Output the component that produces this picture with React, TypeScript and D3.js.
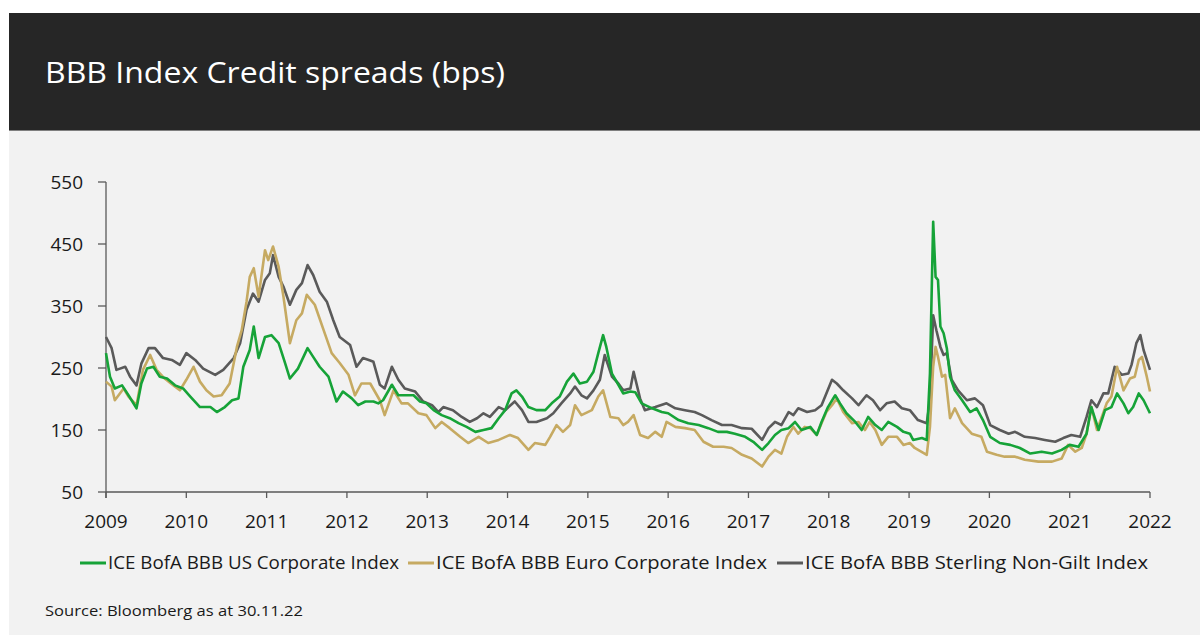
import React from "react";
import * as d3 from "d3";

// [fractional year, spread in bps]
const usCorporate: [number, number][] = [
  [2009.0, 274], [2009.05, 236], [2009.11, 217], [2009.2, 222], [2009.28, 206], [2009.38, 185], [2009.44, 225],
  [2009.51, 249], [2009.59, 252], [2009.67, 236], [2009.76, 233], [2009.86, 222], [2009.96, 217], [2010.05, 204],
  [2010.17, 187], [2010.3, 187], [2010.38, 179], [2010.48, 187], [2010.57, 198], [2010.65, 201], [2010.71, 252],
  [2010.79, 279], [2010.84, 317], [2010.9, 266], [2010.98, 300], [2011.06, 303], [2011.15, 290], [2011.23, 258],
  [2011.29, 233], [2011.39, 249], [2011.51, 282], [2011.58, 268], [2011.66, 252], [2011.77, 236], [2011.87, 196],
  [2011.95, 212], [2012.06, 201], [2012.14, 190], [2012.23, 196], [2012.33, 196], [2012.39, 193], [2012.45, 198],
  [2012.56, 223], [2012.64, 206], [2012.74, 206], [2012.83, 206], [2012.91, 196], [2012.99, 193], [2013.08, 182],
  [2013.18, 174], [2013.28, 169], [2013.39, 161], [2013.49, 155], [2013.6, 147], [2013.7, 150], [2013.8, 153],
  [2013.89, 169], [2013.97, 182], [2014.05, 209], [2014.11, 214], [2014.18, 204], [2014.26, 187], [2014.36, 182],
  [2014.47, 182], [2014.55, 193], [2014.65, 204], [2014.74, 228], [2014.82, 241], [2014.9, 225], [2014.99, 228],
  [2015.07, 244], [2015.13, 274], [2015.19, 303], [2015.23, 284], [2015.3, 241], [2015.38, 223], [2015.44, 209],
  [2015.53, 212], [2015.59, 211], [2015.67, 193], [2015.8, 185], [2015.92, 179], [2016.0, 177], [2016.13, 166],
  [2016.25, 161], [2016.38, 158], [2016.5, 153], [2016.62, 147], [2016.73, 147], [2016.83, 144], [2016.96, 139],
  [2017.06, 131], [2017.17, 118], [2017.25, 129], [2017.33, 142], [2017.41, 150], [2017.5, 153], [2017.58, 163],
  [2017.66, 150], [2017.77, 155], [2017.85, 142], [2017.91, 163], [2017.99, 187], [2018.08, 206], [2018.14, 193],
  [2018.22, 177], [2018.33, 163], [2018.41, 150], [2018.49, 171], [2018.58, 158], [2018.66, 150], [2018.74, 163],
  [2018.85, 155], [2018.93, 147], [2019.01, 144], [2019.05, 134], [2019.16, 137], [2019.22, 134], [2019.26, 241],
  [2019.3, 486], [2019.33, 397], [2019.36, 392], [2019.39, 317], [2019.43, 306], [2019.47, 282], [2019.51, 236],
  [2019.57, 214], [2019.66, 198], [2019.76, 179], [2019.84, 185], [2019.92, 166], [2020.01, 139], [2020.13, 129],
  [2020.26, 126], [2020.38, 121], [2020.51, 112], [2020.65, 115], [2020.78, 112], [2020.9, 118], [2021.0, 126],
  [2021.11, 123], [2021.21, 144], [2021.27, 187], [2021.36, 150], [2021.44, 182], [2021.52, 187], [2021.59, 209],
  [2021.67, 193], [2021.73, 177], [2021.79, 187], [2021.86, 209], [2021.92, 198], [2022.0, 177],
];

const euroCorporate: [number, number][] = [
  [2009.0, 228], [2009.07, 220], [2009.11, 198], [2009.22, 217], [2009.28, 204], [2009.38, 190], [2009.46, 247],
  [2009.55, 271], [2009.63, 247], [2009.73, 233], [2009.84, 222], [2009.92, 214], [2010.0, 231], [2010.09, 252],
  [2010.17, 228], [2010.25, 214], [2010.34, 204], [2010.44, 206], [2010.54, 225], [2010.63, 284], [2010.69, 311],
  [2010.75, 357], [2010.79, 397], [2010.84, 411], [2010.9, 365], [2010.98, 440], [2011.02, 424], [2011.08, 446],
  [2011.15, 413], [2011.21, 365], [2011.29, 290], [2011.37, 327], [2011.44, 338], [2011.5, 368], [2011.6, 352],
  [2011.71, 311], [2011.81, 274], [2011.91, 258], [2012.02, 239], [2012.1, 206], [2012.18, 225], [2012.29, 225],
  [2012.41, 198], [2012.47, 174], [2012.58, 214], [2012.68, 193], [2012.76, 193], [2012.89, 177], [2012.99, 174],
  [2013.1, 153], [2013.18, 163], [2013.28, 153], [2013.41, 139], [2013.51, 129], [2013.64, 139], [2013.76, 129],
  [2013.89, 134], [2014.03, 142], [2014.13, 137], [2014.26, 118], [2014.34, 129], [2014.47, 126], [2014.53, 139],
  [2014.61, 158], [2014.69, 147], [2014.78, 158], [2014.84, 190], [2014.92, 174], [2015.05, 182], [2015.13, 204],
  [2015.19, 214], [2015.28, 171], [2015.38, 169], [2015.44, 158], [2015.5, 163], [2015.57, 174], [2015.65, 142],
  [2015.75, 137], [2015.84, 147], [2015.92, 139], [2015.98, 163], [2016.09, 155], [2016.21, 153], [2016.33, 150],
  [2016.44, 131], [2016.56, 123], [2016.69, 123], [2016.79, 121], [2016.92, 110], [2017.04, 104], [2017.17, 91],
  [2017.25, 107], [2017.33, 118], [2017.41, 112], [2017.48, 139], [2017.56, 155], [2017.62, 144], [2017.7, 155],
  [2017.77, 153], [2017.85, 142], [2017.91, 161], [2017.97, 179], [2018.04, 190], [2018.1, 201], [2018.18, 179],
  [2018.29, 161], [2018.37, 163], [2018.45, 150], [2018.51, 163], [2018.58, 150], [2018.66, 126], [2018.74, 139],
  [2018.85, 139], [2018.93, 126], [2019.01, 129], [2019.07, 121], [2019.22, 110], [2019.26, 155], [2019.3, 252],
  [2019.33, 284], [2019.36, 268], [2019.41, 236], [2019.45, 239], [2019.51, 169], [2019.57, 185], [2019.66, 161],
  [2019.78, 144], [2019.9, 139], [2019.97, 115], [2020.09, 110], [2020.19, 107], [2020.32, 107], [2020.44, 102],
  [2020.61, 99], [2020.78, 99], [2020.9, 104], [2020.98, 126], [2021.07, 115], [2021.15, 121], [2021.21, 144],
  [2021.27, 187], [2021.34, 150], [2021.4, 171], [2021.46, 193], [2021.52, 204], [2021.59, 252], [2021.67, 214],
  [2021.75, 233], [2021.81, 236], [2021.86, 263], [2021.9, 268], [2021.96, 236], [2022.0, 212],
];

const sterlingNonGilt: [number, number][] = [
  [2009.0, 300], [2009.07, 282], [2009.13, 247], [2009.24, 252], [2009.3, 236], [2009.38, 222], [2009.44, 257],
  [2009.53, 282], [2009.61, 282], [2009.71, 266], [2009.82, 263], [2009.92, 255], [2010.0, 274], [2010.11, 263],
  [2010.21, 249], [2010.36, 239], [2010.46, 247], [2010.59, 266], [2010.67, 290], [2010.75, 344], [2010.83, 370],
  [2010.9, 357], [2010.98, 392], [2011.04, 403], [2011.08, 432], [2011.15, 397], [2011.21, 381], [2011.29, 352],
  [2011.37, 376], [2011.44, 387], [2011.51, 416], [2011.58, 400], [2011.66, 373], [2011.75, 357], [2011.83, 327],
  [2011.91, 300], [2012.04, 287], [2012.12, 252], [2012.2, 266], [2012.29, 262], [2012.33, 260], [2012.41, 223],
  [2012.47, 217], [2012.56, 252], [2012.64, 231], [2012.72, 217], [2012.85, 212], [2012.95, 196], [2013.06, 190],
  [2013.14, 179], [2013.2, 187], [2013.32, 182], [2013.43, 171], [2013.53, 163], [2013.62, 169], [2013.7, 177],
  [2013.78, 171], [2013.89, 187], [2013.97, 182], [2014.09, 196], [2014.18, 182], [2014.26, 163], [2014.36, 163],
  [2014.49, 169], [2014.57, 177], [2014.67, 193], [2014.78, 209], [2014.84, 220], [2014.92, 206], [2014.99, 201],
  [2015.07, 214], [2015.15, 231], [2015.21, 271], [2015.3, 236], [2015.38, 225], [2015.44, 214], [2015.53, 217],
  [2015.57, 244], [2015.65, 201], [2015.71, 182], [2015.84, 187], [2015.98, 193], [2016.09, 185], [2016.21, 182],
  [2016.33, 179], [2016.42, 174], [2016.54, 166], [2016.67, 158], [2016.79, 158], [2016.92, 153], [2017.04, 152],
  [2017.17, 134], [2017.25, 153], [2017.33, 163], [2017.41, 158], [2017.5, 179], [2017.56, 174], [2017.62, 185],
  [2017.73, 179], [2017.83, 182], [2017.91, 190], [2017.97, 209], [2018.04, 231], [2018.1, 225], [2018.18, 214],
  [2018.29, 201], [2018.37, 190], [2018.47, 206], [2018.55, 198], [2018.64, 182], [2018.72, 193], [2018.82, 196],
  [2018.91, 185], [2019.01, 182], [2019.11, 166], [2019.22, 161], [2019.26, 198], [2019.3, 335], [2019.34, 311],
  [2019.39, 284], [2019.43, 271], [2019.47, 274], [2019.53, 231], [2019.61, 214], [2019.72, 198], [2019.82, 201],
  [2019.92, 190], [2020.01, 158], [2020.13, 150], [2020.24, 144], [2020.32, 147], [2020.44, 139], [2020.57, 137],
  [2020.69, 134], [2020.82, 131], [2020.92, 137], [2021.02, 142], [2021.13, 139], [2021.21, 171], [2021.27, 198],
  [2021.34, 187], [2021.42, 209], [2021.48, 209], [2021.56, 252], [2021.65, 239], [2021.73, 241], [2021.77, 255],
  [2021.83, 290], [2021.88, 303], [2021.92, 279], [2022.0, 247],
];

const yTicks = [50, 150, 250, 350, 450, 550];
const xTicks = [2009, 2010, 2011, 2012, 2013, 2014, 2015, 2016, 2017, 2018, 2019, 2020, 2021, 2022];

const seriesNames = [
  "ICE BofA BBB US Corporate Index",
  "ICE BofA BBB Euro Corporate Index",
  "ICE BofA BBB Sterling Non-Gilt Index",
];
const seriesColors = ["#16a338", "#c6aa62", "#5a5a5a"];

const title = "BBB Index Credit spreads (bps)";
const source = "Source: Bloomberg as at 30.11.22";

export default function App() {
  const W = 1200;
  const H = 635;
  const x = d3.scaleLinear().domain([2009, 2022]).range([106, 1150]);
  const y = d3.scaleLinear().domain([50, 550]).range([492, 182]);
  const line = d3
    .line<[number, number]>()
    .x((d) => x(d[0]))
    .y((d) => y(d[1]))
    .curve(d3.curveLinear);

  const allSeries = [usCorporate, euroCorporate, sterlingNonGilt];
  // draw order: sterling first (back), then euro, then US
  const drawOrder = [2, 1, 0];

  const axisColor = "#595959";
  const font = "'Open Sans', 'Noto Sans', sans-serif";

  const legendX = [80, 408, 777];
  const legendTextLen = [291, 331, 343];

  return (
    <svg
      width={W}
      height={H}
      style={{ position: "absolute", left: 0, top: 0, display: "block" }}
      xmlns="http://www.w3.org/2000/svg"
    >
      <rect x={0} y={0} width={W} height={H} fill="#ffffff" />
      <rect x={9} y={13} width={W - 9} height={117} fill="#262626" />
      <rect x={9} y={130} width={W - 9} height={1.2} fill="#7f7f7f" />
      <rect x={9} y={131} width={W - 9} height={H - 131} fill="#f2f2f2" />

      <text x={45} y={83} fill="#ffffff" fontFamily={font} fontSize={28.5} textLength={460} lengthAdjust="spacingAndGlyphs">
        {title}
      </text>

      {/* y axis */}
      <line x1={106} x2={106} y1={y(550)} y2={498} stroke={axisColor} strokeWidth={1.3} />
      {yTicks.map((t) => (
        <g key={"y" + t}>
          <line x1={98} x2={106} y1={y(t)} y2={y(t)} stroke={axisColor} strokeWidth={1.3} />
          <text
            x={83}
            y={y(t)}
            dy="0.35em"
            textAnchor="end"
            fontFamily={font}
            fontSize={19}
            fill="#1a1a1a"
          >
            {t}
          </text>
        </g>
      ))}

      {/* x axis */}
      <line x1={106} x2={1150} y1={y(50)} y2={y(50)} stroke={axisColor} strokeWidth={1.3} />
      {xTicks.map((t) => (
        <g key={"x" + t}>
          <line x1={x(t)} x2={x(t)} y1={y(50)} y2={y(50) + 6} stroke={axisColor} strokeWidth={1.3} />
          <text
            x={x(t)}
            y={528}
            textAnchor="middle"
            fontFamily={font}
            fontSize={19}
            fill="#1a1a1a"
          >
            {t}
          </text>
        </g>
      ))}

      {/* series */}
      {drawOrder.map((i) => (
        <path
          key={"s" + i}
          d={line(allSeries[i]) || ""}
          fill="none"
          stroke={seriesColors[i]}
          strokeWidth={2.6}
          strokeLinejoin="round"
        />
      ))}

      {/* legend */}
      {seriesNames.map((name, i) => (
        <g key={"l" + i}>
          <line
            x1={legendX[i]}
            x2={legendX[i] + 26}
            y1={563}
            y2={563}
            stroke={seriesColors[i]}
            strokeWidth={3}
          />
          <text
            x={legendX[i] + 28}
            y={569}
            fontFamily={font}
            fontSize={17.5}
            fill="#1a1a1a"
            textLength={legendTextLen[i]}
            lengthAdjust="spacingAndGlyphs"
          >
            {name}
          </text>
        </g>
      ))}

      <text x={45} y={616} fontFamily={font} fontSize={14.5} fill="#1a1a1a" textLength={258} lengthAdjust="spacingAndGlyphs">
        {source}
      </text>
    </svg>
  );
}
